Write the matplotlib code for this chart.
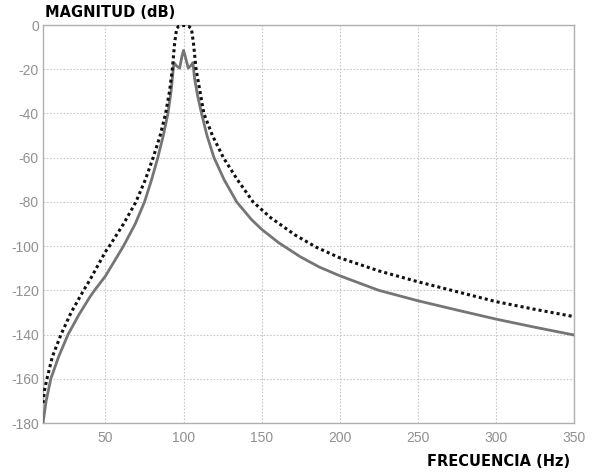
import matplotlib
matplotlib.use("Agg")
import matplotlib.pyplot as plt

# Gray solid curve (frequency in Hz, magnitude in dB)
solid_f = [10, 12, 15, 20, 26, 33, 40, 43, 50, 61.5, 69, 75, 79.5, 83.5, 87, 90,
           92, 93.8, 95.5, 97.5, 99, 100, 101, 103, 104.5, 106, 107, 109, 111.5,
           115, 119.5, 126, 134, 143.5, 150, 160.8, 174.7, 187, 200, 225, 250,
           275, 300, 325, 350]
solid_db = [-180, -170, -160, -150, -140, -131, -123, -120, -113.5, -100, -90, -80, -70,
            -60, -50, -40, -30, -17, -18.5, -19.5, -14, -11.5, -14, -19.5, -18.5, -17,
            -24, -32, -40, -50, -60, -70, -80, -88, -92.4, -98.4, -104.8, -109.5, -113.4,
            -120, -124.7, -128.9, -133, -136.7, -140.2]

# Black dotted curve
dot_f = [10, 11, 12.5, 16, 21.5, 28, 36, 40, 50, 52.5, 61.5, 69.5, 75.5, 80.5, 85, 88.5,
         91, 92.8, 94.3, 95.6, 97, 100, 103, 105, 106.3, 108, 110.5, 113, 118.5, 125.5,
         134.5, 144.5, 150, 155.5, 171.5, 185, 200, 225, 250, 275, 300, 325, 350]
dot_db = [-171, -165, -160, -150, -140, -130, -120, -115.3, -102.5, -100, -90, -80, -70,
          -60, -50, -40, -30, -20, -8, -1.5, -0.5, -0.2, -0.5, -1.5, -8, -20, -30, -40,
          -50, -60, -70, -80, -83.5, -87, -95, -100.5, -105.3, -111.2, -116.1,
          -120.6, -125.1, -128.6, -131.9]

x_ticks = [50, 100, 150, 200, 250, 300, 350]
y_ticks = [0, -20, -40, -60, -80, -100, -120, -140, -160, -180]

plt.rcParams['font.family'] = ['Liberation Sans', 'DejaVu Sans']

fig = plt.figure(figsize=(5.95, 4.73), dpi=100)
ax = fig.add_axes([0.0723, 0.1057, 0.8924, 0.8414])

ax.plot(solid_f, solid_db, color='#757575', lw=2.0, solid_joinstyle='round', zorder=3)
ax.plot(dot_f, dot_db, color='#111111', lw=2.2, linestyle=(0, (1, 1.0)), zorder=4)

ax.set_xlim(10, 350)
ax.set_ylim(-180, 0)
ax.set_xticks(x_ticks)
ax.set_yticks(y_ticks)
ax.set_xticklabels([str(t) for t in x_ticks])
ax.set_yticklabels([str(t) for t in y_ticks])

ax.grid(True, color='#c8c8c8', linestyle=(0, (1.5, 1.5)), linewidth=0.8)
for s in ax.spines.values():
    s.set_color('#b0b0b0')
    s.set_linewidth(1.0)
ax.tick_params(axis='both', length=0, labelsize=10, labelcolor='#909090', pad=3)
ax.tick_params(axis='x', pad=6)

fig.text(45 / 595, 1 - 17 / 473, 'MAGNITUD (dB)', fontsize=10.5, fontweight='heavy',
         family=['DejaVu Sans'], color='black', ha='left', va='baseline')
fig.text(570 / 595, 1 - 466 / 473, 'FRECUENCIA (Hz)', fontsize=10.5, fontweight='heavy',
         family=['DejaVu Sans'], color='black', ha='right', va='baseline')

fig.savefig('out.png', dpi=100)
